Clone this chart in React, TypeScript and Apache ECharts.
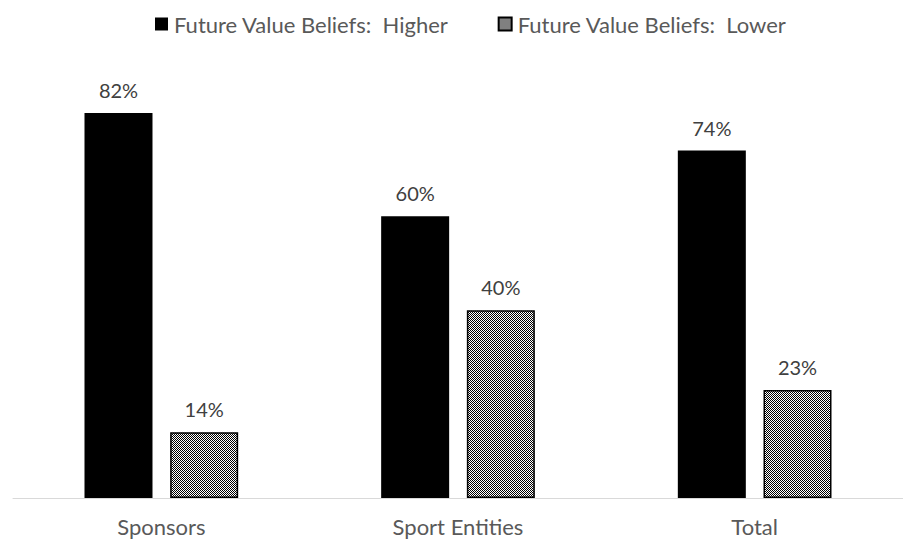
import React, { useEffect, useRef } from "react";
import * as echarts from "echarts";

const categories = ["Sponsors", "Sport Entities", "Total"];
const higherValues = [82, 60, 74];
const lowerValues = [14, 40, 23];
const seriesNames = ["Future Value Beliefs:  Higher", "Future Value Beliefs:  Lower"];

function makeChecker(): HTMLCanvasElement {
  const c = document.createElement("canvas");
  c.width = 4;
  c.height = 4;
  const ctx = c.getContext("2d")!;
  ctx.fillStyle = "#ffffff";
  ctx.fillRect(0, 0, 4, 4);
  ctx.fillStyle = "#000000";
  for (let y = 0; y < 4; y++) {
    for (let x = 0; x < 4; x++) {
      if ((x + y) % 2 === 0) ctx.fillRect(x, y, 1, 1);
    }
  }
  return c;
}

export default function App() {
  const ref = useRef<HTMLDivElement>(null);
  useEffect(() => {
    if (!ref.current) return;
    const chart = echarts.init(ref.current, undefined, { renderer: "svg" });
    const pattern = { image: makeChecker(), repeat: "repeat" };
    const font = "Lato, 'Open Sans', sans-serif";
    const labelStyle = {
      show: true,
      position: "top",
      distance: 13,
      formatter: "{c}%",
      fontSize: 20,
      color: "#404040",
      fontFamily: font,
    };
    chart.setOption({
      animation: false,
      textStyle: { fontFamily: font },
      legend: {
        top: 8,
        left: 150,
        itemWidth: 13,
        itemHeight: 13,
        itemGap: 49,
        icon: "rect",
        textStyle: { fontSize: 22, color: "#595959", fontFamily: font, padding: [0, 0, 0, 1] },
        data: seriesNames,
      },
      grid: { left: 13, right: -10, top: 28.5, bottom: 43, containLabel: false },
      xAxis: {
        type: "category",
        data: categories,
        axisLine: { lineStyle: { color: "#d9d9d9", width: 1 } },
        axisTick: { show: false },
        axisLabel: { fontSize: 22, color: "#595959", margin: 17, fontFamily: font },
      },
      yAxis: {
        type: "value",
        min: 0,
        max: 100,
        show: false,
        splitLine: { show: false },
      },
      series: [
        {
          name: seriesNames[0],
          type: "bar",
          data: higherValues,
          barWidth: 68,
          barGap: "26%",
          itemStyle: { color: "#000000" },
          label: labelStyle,
        },
        {
          name: seriesNames[1],
          type: "bar",
          data: lowerValues,
          barWidth: 68,
          itemStyle: { color: pattern, borderColor: "#000000", borderWidth: 1.5 },
          label: labelStyle,
        },
      ],
    });
    return () => chart.dispose();
  }, []);
  return (
    <div
      ref={ref}
      style={{ position: "fixed", left: 0, top: 0, width: 903, height: 541, background: "#fff" }}
    />
  );
}
